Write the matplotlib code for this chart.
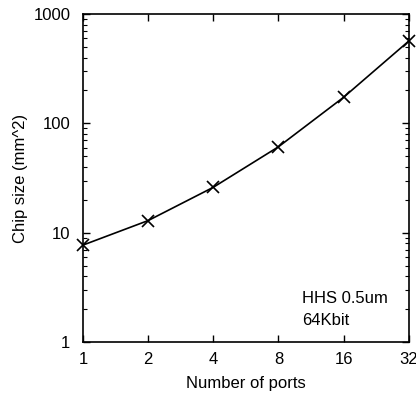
import numpy as np
import matplotlib
matplotlib.use("Agg")
import matplotlib.pyplot as plt
from matplotlib.ticker import FixedLocator, NullFormatter, LogLocator

plt.rcParams['font.family'] = ['Liberation Sans', 'DejaVu Sans']

ports = [1, 2, 4, 8, 16, 32]
chip_size = [7.7, 12.9, 26, 61, 173, 565]
xtick_labels = ["1", "2", "4", "8", "16", "32"]
ytick_vals = [1, 10, 100, 1000]
ytick_labels = ["1", "10", "100", "1000"]

fig = plt.figure(figsize=(4.16, 4.0), dpi=100)
ax = fig.add_axes([0.1995, 0.145, 0.783, 0.82])

ax.plot(ports, chip_size, color="black", linewidth=1.2, marker="x",
        markersize=8, markeredgewidth=1.2, clip_on=False)

ax.set_xscale("log", base=2)
ax.set_yscale("log")
ax.set_xlim(1, 32)
ax.set_ylim(1, 1000)

ax.xaxis.set_major_locator(FixedLocator(ports))
ax.set_xticklabels(xtick_labels)
ax.xaxis.set_minor_locator(FixedLocator([]))
ax.yaxis.set_major_locator(FixedLocator(ytick_vals))
ax.set_yticklabels(ytick_labels)
ax.yaxis.set_minor_locator(LogLocator(base=10, subs=np.arange(2, 10)))
ax.yaxis.set_minor_formatter(NullFormatter())

ax.tick_params(which="both", direction="in", top=True, right=True, labelsize=12)
ax.tick_params(which="major", length=5, width=1, pad=7)
ax.tick_params(axis="y", which="major", pad=9)
ax.tick_params(which="minor", length=3, width=0.8)
for s in ax.spines.values():
    s.set_linewidth(1.2)

ax.set_xlabel("Number of ports", fontsize=12, labelpad=7)
ax.set_ylabel("Chip size (mm^2)", fontsize=12, labelpad=4)

ax.text(0.673, 0.119, "HHS 0.5um", transform=ax.transAxes,
        fontsize=12, ha="left", va="baseline")
ax.text(0.673, 0.052, "64Kbit", transform=ax.transAxes,
        fontsize=12, ha="left", va="baseline")

fig.savefig("out.png", dpi=100)
